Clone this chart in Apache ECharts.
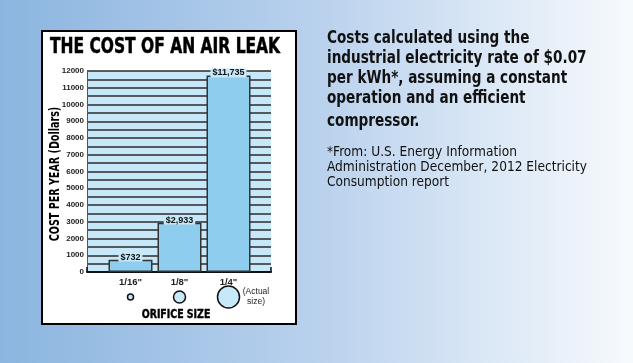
<!DOCTYPE html>
<html><head><meta charset="utf-8">
<script src="https://cdn.jsdelivr.net/npm/echarts@6/dist/echarts.min.js"></script>
<style>html,body{margin:0;padding:0;background:#fff}#c{width:633px;height:363px}</style>
</head><body><div id="c"></div>
<script>
// ---- data ----
const categories = ['1/16"', '1/8"', '1/4"'];
const costs = [732, 2933, 11735];
const yMin = 0, yMax = 12000, yGridStep = 500, yLabelStep = 1000;
const orificeSymbolPx = [6, 12, 22];
const titleText = 'THE COST OF AN AIR LEAK';
const yAxisTitle = 'COST PER YEAR (Dollars)';
const xAxisTitle = 'ORIFICE SIZE';
const noteLines = ['Costs calculated using the', 'industrial electricity rate of $0.07', 'per kWh*, assuming a constant', 'operation and an efficient', 'compressor.'];
const footLines = ['*From: U.S. Energy Information', 'Administration December, 2012 Electricity', 'Consumption report'];

const COND = "'DejaVu Sans Condensed','DejaVu Sans',sans-serif";
const ARIAL = "'Liberation Sans',Arial,sans-serif";
const plotBg = '#c6e8f9';
const chart = echarts.init(document.getElementById('c'), null, {renderer: 'canvas'});

const graphics = [
  {type:'rect', z:-20, shape:{x:0,y:0,width:633,height:363}, style:{fill:new echarts.graphic.LinearGradient(0,0,1,0,[{offset:0,color:'#8bb5df'},{offset:0.5,color:'#b9d1ed'},{offset:1,color:'#f7fafd'}])}},
  {type:'rect', z:-10, shape:{x:42,y:31,width:254,height:293}, style:{fill:'#ffffff', stroke:'#000', lineWidth:2}},
  {type:'text', z:5, x:165, y:48, scaleX:0.82, style:{text:titleText, align:'center', verticalAlign:'middle', font:"bold 21px "+COND, fill:'#000', stroke:'#000', lineWidth:0.5}},
  {type:'text', z:5, x:55, y:174, rotation:Math.PI/2, scaleX:0.76, style:{text:yAxisTitle, align:'center', verticalAlign:'middle', font:"bold 14px "+COND, fill:'#000'}},
  {type:'text', z:5, x:176, y:315, scaleX:0.87, style:{text:xAxisTitle, align:'center', verticalAlign:'middle', font:"bold 12px "+COND, fill:'#000', stroke:'#000', lineWidth:0.4}},
  {type:'text', z:5, x:256, y:297, style:{text:'(Actual\nsize)', align:'center', verticalAlign:'middle', font:"8.5px "+ARIAL, fill:'#222', lineHeight:10}}
];
const noteY = [38, 58, 78, 98, 121];
noteLines.forEach((t,i)=>graphics.push({type:'text', z:5, x:327, y:noteY[i], scaleX:0.84, style:{text:t, verticalAlign:'middle', font:"bold 18px "+COND, fill:'#111'}}));
const footY = [152, 167, 182];
footLines.forEach((t,i)=>graphics.push({type:'text', z:5, x:327, y:footY[i], scaleX:0.97, style:{text:t, verticalAlign:'middle', font:"14px "+COND, fill:'#111'}}));

chart.setOption({
  animation:false,
  graphic:graphics,
  grid:[
    {left:87, top:71, width:184, height:201, show:true, backgroundColor:plotBg, borderWidth:0},
    {left:106, top:71, width:147, height:201},
    {left:106, top:285, width:147, height:24}
  ],
  xAxis:[
    {gridIndex:0, type:'value', min:0, max:1, interval:1,
     axisLine:{show:true, lineStyle:{color:'#111', width:2}},
     axisTick:{show:true, inside:true, length:5, lineStyle:{color:'#111', width:1.5}},
     axisLabel:{show:false}, splitLine:{show:false}},
    {gridIndex:1, type:'category', data:categories,
     axisLine:{show:false}, axisTick:{show:false},
     axisLabel:{margin:5, fontFamily:ARIAL, fontWeight:'bold', fontSize:9.5, color:'#222'}},
    {gridIndex:2, type:'category', data:categories, show:false}
  ],
  yAxis:[
    {gridIndex:0, type:'value', min:yMin, max:yMax, interval:yGridStep,
     axisLine:{show:true, lineStyle:{color:'#555', width:1}},
     axisTick:{show:false},
     axisLabel:{margin:3, fontFamily:ARIAL, fontWeight:'bold', fontSize:8, color:'#222',
       formatter:v=> (v % yLabelStep === 0 ? String(v) : '')},
     splitLine:{show:true, lineStyle:{color:'#2b2b2b', width:1.5}}},
    {gridIndex:1, type:'value', min:yMin, max:yMax, show:false},
    {gridIndex:2, type:'value', min:0, max:1, show:false}
  ],
  series:[
    {type:'bar', xAxisIndex:1, yAxisIndex:1, data:costs, barWidth:44,
     itemStyle:{color:'#8fcdee', borderColor:'#333', borderWidth:1.5},
     label:{show:true, position:'top', distance:-2, backgroundColor:plotBg, padding:[0,2],
       fontFamily:ARIAL, fontWeight:'bold', fontSize:9, color:'#111',
       formatter:p=>'$'+p.value.toLocaleString('en-US')}},
    {type:'scatter', xAxisIndex:2, yAxisIndex:2, silent:true,
     data:categories.map(()=>0.5),
     symbolSize:(v,p)=>orificeSymbolPx[p.dataIndex],
     itemStyle:{color:plotBg, borderColor:'#111', borderWidth:1.5, opacity:1}}
  ]
});
</script></body></html>
